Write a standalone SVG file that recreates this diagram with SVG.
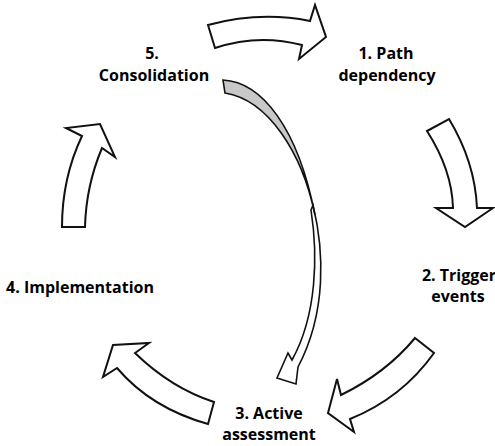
<svg xmlns="http://www.w3.org/2000/svg" width="495" height="446" viewBox="0 0 495 446">
<style>
.lbl{font-family:"Open Sans","Liberation Sans",sans-serif;font-weight:bold;font-size:16px;fill:#000;text-anchor:middle}
.blk{fill:#fff;stroke:#111;stroke-width:2;stroke-linejoin:miter}
.thin{stroke:#111;stroke-width:1.6;stroke-linejoin:miter}
</style>
<rect width="495" height="446" fill="#fff"/>
<g id="node-5"><text class="lbl" x="152" y="59">5.</text><text class="lbl" x="154" y="81">Consolidation</text></g>
<g id="node-1"><text class="lbl" x="386" y="59">1. Path</text><text class="lbl" x="387" y="81">dependency</text></g>
<g id="node-2"><text class="lbl" x="459" y="281">2. Trigger</text><text class="lbl" x="458" y="302">events</text></g>
<g id="node-3"><text class="lbl" x="269" y="419">3. Active</text><text class="lbl" x="269" y="440">assessment</text></g>
<g id="node-4"><text class="lbl" x="80" y="293">4. Implementation</text></g>
<g id="connectors">
<path class="blk" d="M208,25 Q260,11 310,21 L315,5 L326,37 L299,59 L302,45 Q258,33.5 215,48 Z"/>
<path class="blk" d="M427,131 L449,119 Q475,162 477,208 L493,208 L465,227 L436,208 L453,208 Q452,170 427,131 Z"/>
<path class="blk" d="M415,338 L434,353 Q402,398 350,419 L354,432 L328,413 L337,379 L341,395 Q386,373 415,338 Z"/>
<path class="blk" d="M214,402 L208,424 Q151,408 117,368 L103,377 L113,345 L149,343 L135,353 Q171,388 214,402 Z"/>
<path class="blk" d="M62,227 L85,227 Q86,186 102,148 L115,157 L100,124 L66,128 L82,136 Q62,178 62,227 Z"/>
<path class="thin" fill="#fff" d="M313,205 C324,250 327,312 298,367 L296,384 L277,378 L288,353 L292,360 C317,315 318,255 311,210 Z"/>
<path class="thin" fill="#c8c8c8" d="M223,80 C262,82 298,128 315,215 C302,152 268,100 225,93 Z"/>
</g>
</svg>
